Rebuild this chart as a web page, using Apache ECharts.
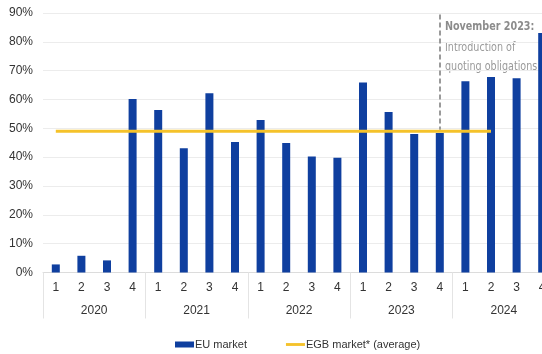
<!DOCTYPE html>
<html>
<head>
<meta charset="utf-8">
<script src="https://cdn.jsdelivr.net/npm/echarts@6/dist/echarts.min.js"></script>
<style>
  html, body { margin: 0; padding: 0; background: #fff; }
  #chart { width: 542px; height: 354px; }
</style>
</head>
<body>
<div id="chart"></div>
<script>
// Quarterly share of the EU market vs. EGB market average
const quarters = ['1','2','3','4','1','2','3','4','1','2','3','4','1','2','3','4','1','2','3','4'];
const years = ['2020', '2021', '2022', '2023', '2024'];
const euMarket = [2.8, 5.8, 4.2, 60.2, 56.4, 43.1, 62.2, 45.3, 52.9, 44.9, 40.2, 39.8, 65.9, 55.7, 48.0, 48.4, 66.3, 67.8, 67.4, 83.1];
const egbAverage = [49, 49, 49, 49, 49, 49, 49, 49, 49, 49, 49, 49, 49, 49, 49, 49, 49, 49, null, null];
const yTicks = [0, 10, 20, 30, 40, 50, 60, 70, 80, 90];
const noteTitle = 'November 2023:';
const noteLines = ['Introduction of', 'quoting obligations'];
const noteIndex = 15;

const chart = echarts.init(document.getElementById('chart'), null, { renderer: 'canvas' });
const font = 'Liberation Sans, Arial, sans-serif';
const noteFont = '"DejaVu Sans Condensed", "DejaVu Sans", sans-serif';

chart.setOption({
  animation: false,
  textStyle: { fontFamily: font },
  grid: { left: 43, top: 13, bottom: 81.5, width: 512, containLabel: false, outerBoundsMode: 'none' },
  xAxis: [
    {
      type: 'category',
      data: quarters,
      position: 'bottom',
      axisLine: { show: true, lineStyle: { color: '#dcdcdc', width: 1 } },
      axisTick: { show: false },
      axisLabel: { color: '#333', fontSize: 12, margin: 9, fontFamily: font, interval: 0 }
    },
    {
      type: 'category',
      data: years,
      position: 'bottom',
      gridIndex: 0,
      axisLine: { show: false },
      axisTick: { show: true, length: 46, interval: 0, lineStyle: { color: '#e4e4e4', width: 1 } },
      axisLabel: { color: '#333', fontSize: 12, margin: 32, fontFamily: font, interval: 0 },
      splitLine: { show: false }
    }
  ],
  yAxis: {
    type: 'value',
    min: yTicks[0],
    max: yTicks[yTicks.length - 1],
    interval: 10,
    axisLine: { show: false },
    axisTick: { show: false },
    axisLabel: { color: '#333', fontSize: 12, margin: 10, fontFamily: font, formatter: v => v + '%' },
    splitLine: { lineStyle: { color: '#ececec', width: 1 } }
  },
  legend: {
    left: 170,
    top: 334,
    itemGap: 39,
    itemWidth: 19,
    itemHeight: 6,
    textStyle: { color: '#333', fontSize: 11, fontFamily: font, padding: [0, 0, 0, -4] },
    data: [
      { name: 'EU market', icon: 'rect' },
      { name: 'EGB market* (average)', icon: 'path://M0 0H60V9H0Z' }
    ]
  },
  series: [
    {
      name: 'EU market',
      type: 'bar',
      xAxisIndex: 0,
      data: euMarket,
      barWidth: 8,
      itemStyle: { color: '#0f3f9f' },
      markLine: {
        silent: true,
        symbol: 'none',
        label: { show: false },
        lineStyle: { color: '#9a9a9a', type: [5, 3], width: 2 },
        data: [[
          { coord: [noteIndex, 89.5] },
          { coord: [noteIndex, 49.5] }
        ]]
      }
    },
    {
      name: 'EGB market* (average)',
      type: 'line',
      xAxisIndex: 0,
      data: egbAverage,
      symbol: 'none',
      z: 5,
      lineStyle: { color: '#f5c22a', width: 3 },
      itemStyle: { color: '#f5c22a' }
    }
  ],
  graphic: [
    {
      type: 'text',
      x: 445,
      y: 20,
      scaleX: 0.82,
      style: {
        text: noteTitle,
        fill: '#8c8c8c',
        font: 'bold 13px ' + noteFont
      }
    },
    {
      type: 'text',
      x: 445,
      y: 38,
      scaleX: 0.82,
      style: {
        text: noteLines.join('\n'),
        fill: '#9a9a9a',
        lineHeight: 19,
        font: '13px ' + noteFont
      }
    }
  ]
});
</script>
</body>
</html>
